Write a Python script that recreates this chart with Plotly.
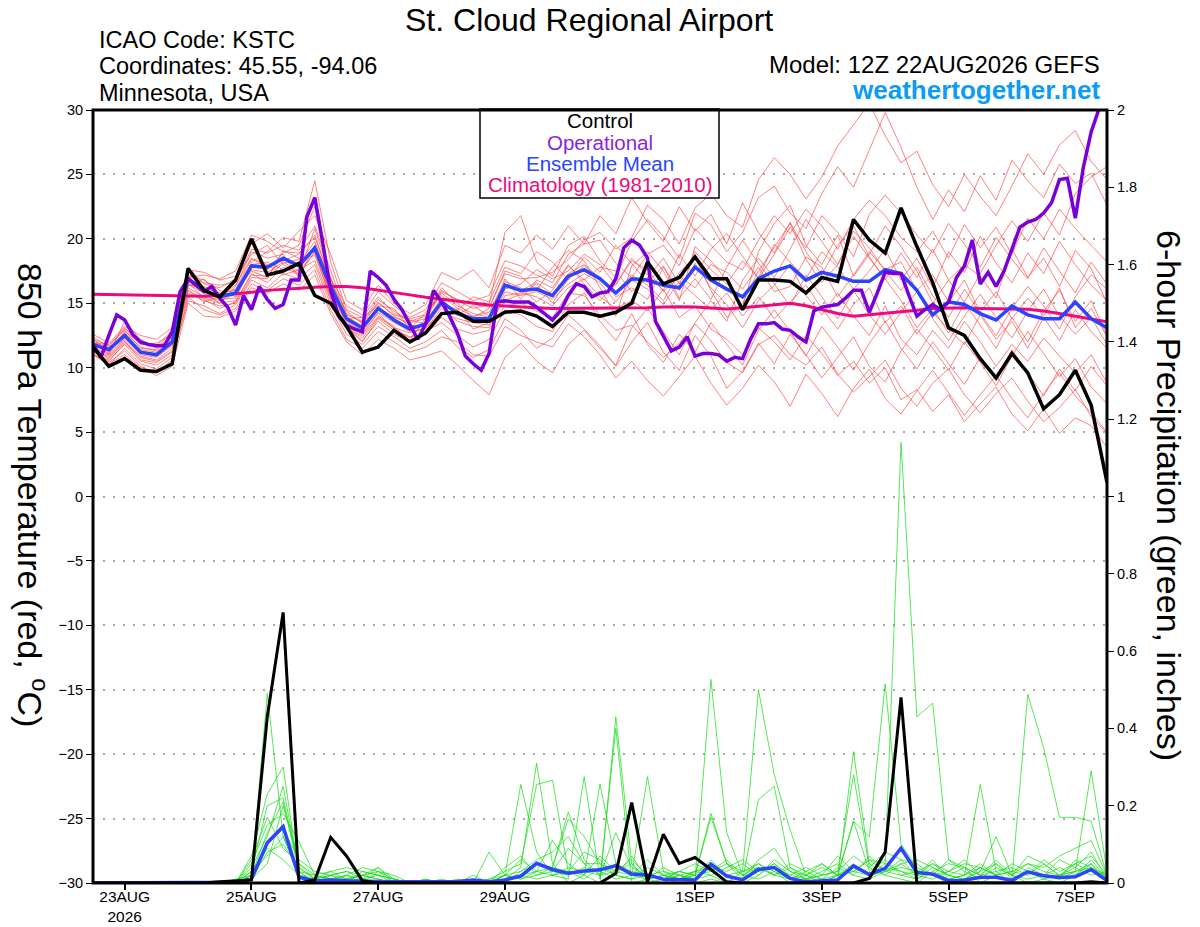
import pandas as pd
import plotly.graph_objects as go

# ---------------- data ----------------
start = "2026-08-22 12:00"
times_6h = pd.date_range(start, periods=65, freq="6h")
times_3h = pd.date_range(start, periods=129, freq="3h")

control_temp = [11.6,10.1,10.7,9.8,9.7,10.3,17.7,16.0,15.5,16.8,20.0,17.2,17.5,
                18.1,15.6,15.0,13.2,11.2,11.6,12.9,12.0,12.7,14.2,14.3,13.6,13.6,
                14.3,14.4,14.0,13.2,14.3,14.3,14.0,14.3,15.0,18.2,16.5,17.0,18.6,
                16.9,16.9,14.5,16.8,16.8,16.7,15.8,17.0,16.7,21.5,19.9,18.9,22.4,
                19.4,16.6,13.1,12.5,10.7,9.2,11.1,9.6,6.8,7.9,9.8,7.1,1.1]

mean_temp = [11.8,11.4,12.5,11.2,11.0,12.0,16.9,16.0,15.5,15.8,17.9,17.8,18.5,
             17.9,19.3,16.3,13.8,13.1,14.6,13.7,13.0,13.4,15.1,14.2,13.8,13.8,
             16.4,16.0,16.1,15.6,17.1,17.6,16.9,15.8,16.9,16.8,16.4,16.2,17.8,
             16.8,16.1,15.5,16.9,17.5,17.9,16.8,17.4,17.1,16.7,16.7,17.6,17.3,
             16.0,14.1,15.1,14.9,14.2,13.7,14.8,14.1,13.8,13.8,15.1,13.8,13.1]

clim_temp = [15.7,15.68,15.65,15.62,15.6,15.56,15.55,15.55,15.6,15.7,15.85,16.0,16.1,
             16.2,16.25,16.3,16.3,16.2,16.0,15.85,15.65,15.46,15.3,15.15,15.0,14.86,
             14.78,14.7,14.65,14.6,14.6,14.6,14.6,14.6,14.62,14.65,14.7,14.73,14.7,
             14.6,14.55,14.65,14.75,14.9,15.0,14.8,14.5,14.2,14.0,14.1,14.2,14.3,
             14.45,14.6,14.65,14.65,14.6,14.55,14.55,14.53,14.4,14.2,14.0,13.8,13.57]

# operational run, 3-hourly
oper_temp = [11.8,10.8,12.5,14.1,13.7,12.6,12.0,11.8,11.7,11.7,12.8,15.9,16.9,16.4,15.9,16.3,
             15.4,14.7,13.3,15.6,14.5,16.3,15.3,14.6,14.9,16.8,16.8,21.7,23.2,19.7,16.0,14.0,
             13.3,13.0,12.8,17.5,17.0,16.4,15.3,14.5,13.4,12.2,13.4,16.0,15.1,14.0,12.7,10.9,
             10.3,9.8,11.1,15.1,15.2,15.1,15.1,15.1,14.7,14.2,13.7,14.4,15.6,16.5,16.3,15.5,
             15.8,15.9,16.9,19.3,19.9,19.5,18.5,13.6,12.4,11.3,11.6,12.4,10.9,11.1,11.1,11.0,
             10.5,10.8,10.7,12.2,13.4,13.4,13.5,13.0,12.9,12.4,12.0,14.4,14.7,14.8,14.9,15.4,
             16.0,16.0,14.3,15.8,17.4,17.3,17.3,15.6,14.0,14.5,14.9,14.5,15.1,17.0,17.9,19.9,
             16.5,17.4,16.3,17.5,19.2,20.9,21.3,21.5,22.0,22.8,24.6,24.7,21.6,25.5,28.3,30.1,
             31.5]

temp_m01 = [12.3,11.0,13.6,12.2,11.5,12.8,17.8,16.5,16.2,16.9,18.8,19.5,18.0,
            17.3,20.8,17.0,13.0,12.5,14.0,13.2,12.1,13.9,16.2,15.0,13.9,14.6,
            17.5,17.1,16.0,17.8,19.1,18.3,16.2,14.0,17.9,19.0,17.5,15.2,19.4,
            18.3,16.8,14.7,19.0,21.2,22.6,19.5,18.0,20.3,17.1,18.8,21.0,19.4,
            17.5,15.0,16.8,18.0,17.1,15.4,19.2,17.0,18.5,16.3,19.1,17.7,15.0]
temp_m02 = [11.2,10.6,11.8,10.5,10.2,11.0,15.8,15.2,14.8,15.0,17.0,16.9,19.1,
            18.5,18.7,15.5,13.2,12.0,13.8,12.9,12.4,12.6,13.9,13.0,12.6,12.9,
            14.8,15.0,14.4,13.9,15.8,15.6,14.1,12.9,13.3,12.0,10.8,11.9,13.4,
            12.1,10.4,9.6,11.8,12.5,11.0,10.2,11.6,9.5,8.1,9.3,10.6,8.4,
            7.0,8.8,9.9,7.9,6.5,8.0,9.2,7.4,5.8,6.9,8.3,6.2,4.9]
temp_m03 = [11.9,11.8,12.9,11.5,11.4,12.5,17.2,16.8,16.0,15.5,18.2,19.0,20.1,
            19.8,24.5,18.2,14.5,13.9,15.5,14.2,13.8,14.1,16.0,15.2,14.6,14.9,
            20.5,21.8,18.2,17.1,19.5,20.2,18.3,17.0,19.8,21.5,20.2,18.5,22.0,
            21.1,19.0,20.5,23.2,24.1,22.0,20.8,23.5,25.6,24.0,26.9,29.8,27.1,
            24.0,21.5,23.8,22.1,24.9,23.0,26.1,24.5,23.2,25.8,24.3,25.1,22.6]
temp_m04 = [11.5,10.9,12.2,11.0,10.8,11.7,16.5,15.8,15.0,16.3,19.0,18.5,18.8,
            17.0,19.5,16.8,14.2,13.5,15.1,14.0,13.3,13.2,14.8,14.5,13.0,13.5,
            15.2,15.7,16.5,15.0,16.9,17.9,17.0,15.5,16.2,15.3,17.8,16.0,18.1,
            16.2,14.9,13.1,15.2,16.4,18.0,15.6,14.1,15.8,14.0,12.5,14.8,12.2,
            11.0,12.9,11.5,13.6,12.0,10.1,11.8,10.5,12.3,10.9,9.6,11.0,8.8]
temp_m05 = [12.0,11.2,12.8,11.9,11.6,12.3,16.0,15.1,15.5,15.9,17.5,17.0,18.1,
            18.4,19.0,15.8,13.6,12.8,14.2,13.0,12.3,13.6,15.4,14.1,14.8,14.0,
            16.9,15.3,16.8,16.2,18.0,16.5,15.2,16.5,18.3,17.6,15.9,17.1,16.2,
            18.0,17.4,16.1,17.8,15.9,16.3,18.6,17.8,15.5,17.2,19.0,17.6,18.2,
            16.0,17.2,15.1,16.8,14.3,15.9,13.8,15.4,14.0,16.2,13.1,14.6,12.4]
temp_m06 = [11.0,10.2,11.5,10.3,9.9,10.8,15.2,14.8,14.2,14.9,16.8,16.2,17.3,
            16.9,18.0,14.9,12.6,11.8,13.2,12.4,11.5,12.0,12.9,11.6,10.8,11.4,
            13.8,12.9,11.5,12.3,14.1,13.0,11.7,10.1,12.0,13.5,11.2,9.8,12.5,
            10.9,8.4,9.7,11.9,10.3,12.6,11.0,9.2,10.8,12.4,10.1,8.9,11.3,
            13.0,11.5,9.8,12.0,10.4,8.6,10.9,12.8,11.1,9.3,10.7,8.5,7.2]
temp_m07 = [12.6,11.9,13.2,12.5,12.2,13.1,17.0,17.2,16.9,17.5,20.3,19.8,19.0,
            18.9,20.1,16.9,14.8,14.1,15.9,14.8,13.9,14.5,16.6,15.9,15.2,15.6,
            18.3,17.9,17.2,16.6,18.8,19.6,19.9,18.1,17.0,18.8,19.5,17.9,20.8,
            19.5,18.2,17.6,19.9,21.8,20.4,22.3,21.0,19.2,21.5,23.0,21.8,20.1,
            19.0,20.6,18.5,21.1,19.3,20.9,18.8,21.6,20.0,22.3,20.8,19.5,18.2]
temp_m08 = [11.3,10.5,11.9,10.8,10.5,11.3,16.2,15.5,15.2,15.7,17.6,17.4,18.2,
            17.5,18.9,16.0,13.4,12.6,14.3,13.5,12.8,13.0,14.6,13.6,13.2,13.1,
            15.6,15.8,15.5,14.8,16.2,16.9,15.5,14.6,15.2,14.4,16.1,13.9,14.8,
            13.0,12.2,11.0,13.1,12.0,10.6,12.5,11.1,9.4,10.5,8.8,10.0,7.5,
            8.3,6.6,7.9,5.8,7.2,8.5,6.4,5.1,6.8,4.9,6.1,5.5,3.8]
temp_m09 = [11.7,11.3,12.4,11.1,11.1,12.1,17.5,16.2,15.8,16.0,18.0,18.2,17.6,
            18.1,19.8,16.5,14.0,13.2,14.7,13.9,13.5,13.8,15.8,14.8,14.2,13.9,
            16.1,16.5,17.6,16.9,17.5,18.8,18.0,16.4,18.5,17.2,16.0,18.8,17.1,
            19.2,20.4,18.6,16.9,18.8,20.9,19.3,21.8,20.5,18.6,21.9,23.4,22.0,
            20.3,18.9,21.2,19.6,17.8,20.1,18.4,16.9,19.3,17.5,15.8,18.2,16.5]
temp_m10 = [11.4,10.8,12.0,10.9,10.6,11.5,16.6,15.4,15.0,15.2,17.2,17.1,18.6,
            18.0,19.2,15.6,13.1,12.3,13.9,13.1,12.7,13.1,14.3,13.8,13.5,13.3,
            15.9,15.6,15.9,15.3,16.5,17.3,16.6,15.1,16.8,16.1,14.9,16.7,15.6,
            14.5,15.8,14.0,15.5,13.8,15.1,16.4,14.6,13.0,14.9,16.2,13.5,14.8,
            12.6,14.3,13.0,11.8,14.1,12.2,13.6,11.5,13.9,12.1,14.5,12.8,11.5]
temp_m11 = [12.1,11.5,12.7,11.6,11.3,12.4,17.1,16.6,16.4,16.6,19.2,18.9,19.5,
            19.1,21.0,17.5,14.1,13.6,15.3,14.4,13.6,14.0,15.9,15.3,14.9,14.7,
            17.3,16.9,17.0,17.4,18.4,19.9,20.5,19.2,20.1,22.6,21.5,19.6,22.4,
            23.5,21.8,20.9,24.6,26.3,25.0,23.1,24.8,27.2,28.9,30.5,28.0,25.9,
            26.8,24.2,22.5,25.0,23.3,21.8,24.1,26.6,25.0,27.3,28.4,26.0,24.6]
temp_m12 = [11.0,10.4,11.3,10.1,9.6,10.6,15.5,14.5,14.1,14.6,16.5,16.0,16.9,
            16.4,17.6,14.5,12.2,11.5,12.8,12.0,11.2,11.6,12.4,12.0,11.0,10.9,
            13.2,12.5,12.0,11.6,13.4,12.4,11.0,9.2,10.5,9.0,7.8,9.3,10.9,
            8.8,7.1,8.4,10.2,8.9,7.0,9.5,8.0,6.2,8.4,9.9,7.6,6.4,
            8.2,9.8,8.0,6.3,7.9,9.4,7.6,6.1,8.0,9.6,7.8,6.5,5.0]
temp_m13 = [12.4,11.6,13.0,11.8,11.9,12.6,16.3,16.9,15.6,16.4,18.5,18.0,17.2,
            17.6,18.3,15.2,13.8,13.9,14.8,14.6,13.0,14.3,15.6,14.6,14.0,14.3,
            16.7,16.2,15.1,16.0,17.9,16.8,17.8,17.5,15.9,17.0,18.5,16.5,19.0,
            17.6,16.5,18.3,17.0,19.6,18.2,16.9,19.0,17.8,16.1,17.5,19.2,16.8,
            18.5,16.2,19.0,17.4,20.2,18.1,16.6,18.9,17.3,19.8,18.0,16.4,15.2]
temp_m14 = [11.6,11.0,12.3,11.3,10.9,11.8,16.8,15.9,15.3,15.4,17.8,17.6,18.9,
            19.5,22.5,16.2,13.7,12.9,14.5,13.6,12.9,13.5,15.2,14.2,13.7,13.6,
            16.3,16.0,16.6,15.7,17.3,18.0,16.9,15.9,17.2,16.4,15.2,17.4,18.6,
            16.0,13.9,15.0,17.5,19.4,21.2,18.4,16.6,18.0,20.2,18.5,16.9,15.2,
            13.1,14.6,12.7,15.0,13.3,11.5,13.9,12.0,14.4,16.0,13.6,15.2,12.5]
temp_m15 = [11.1,10.3,11.0,10.0,9.4,10.1,15.0,14.0,13.9,14.4,16.2,15.8,16.5,
            16.0,17.2,14.2,12.0,11.0,12.2,11.5,10.6,10.9,11.3,10.2,9.0,7.9,
            10.8,11.9,10.5,9.6,11.8,12.9,11.5,10.2,13.1,14.6,12.8,11.0,13.5,
            15.2,13.6,16.8,18.5,17.0,19.2,21.5,19.8,18.0,20.6,19.3,17.5,16.0,
            17.8,15.6,13.9,16.1,14.2,12.5,14.6,16.3,14.8,13.0,15.5,17.2,16.1]
temp_m16 = [12.2,11.7,13.1,11.9,11.7,12.9,17.6,17.4,16.8,17.1,19.6,20.4,19.3,
            20.6,21.8,18.8,15.2,14.5,16.4,15.0,14.2,14.9,17.4,16.8,17.6,16.2,
            19.5,18.9,20.3,19.2,21.0,19.6,21.8,20.4,23.2,21.3,19.8,22.5,20.6,
            21.9,19.6,22.8,20.5,18.9,21.3,19.0,17.2,19.5,21.0,18.6,16.8,18.9,
            17.0,19.2,16.8,15.1,17.3,19.5,21.4,19.8,22.0,20.3,23.5,24.8,25.6]
temp_m17 = [11.5,10.7,12.1,10.6,10.4,11.2,16.0,15.3,14.6,15.1,17.3,16.6,17.8,
            17.2,19.0,15.3,13.0,12.1,13.6,12.6,12.0,12.8,13.5,12.5,11.6,12.2,
            14.5,14.1,13.2,12.8,14.9,15.8,13.6,12.1,14.2,11.8,10.4,12.6,11.2,
            13.5,11.8,10.2,12.9,14.5,12.8,10.9,13.2,11.6,9.8,11.9,13.6,11.5,
            9.9,12.0,10.3,8.7,10.8,9.1,11.4,9.6,7.8,9.9,8.2,10.1,8.6]
temp_m18 = [11.8,11.1,12.6,11.4,11.2,12.2,16.4,16.3,15.7,16.1,18.4,17.9,18.3,
            18.8,20.3,16.6,14.4,13.4,15.0,14.1,13.7,13.4,15.0,14.5,15.5,15.1,
            17.8,17.3,19.0,18.2,16.8,18.6,17.4,19.5,18.1,16.6,17.9,15.4,16.9,
            15.3,17.8,19.9,18.1,16.5,14.8,17.2,15.5,13.8,16.0,14.1,12.6,14.3,
            15.9,13.8,12.1,14.0,15.7,13.9,12.3,14.4,16.1,14.0,12.6,13.9,11.8]

control_prcp = [0,0,0,0,0,0,0,0,0.003,0.005,0.008,0.43,0.70,
                0,0.008,0.118,0.07,0.006,0,0,0,0,0,0,0,0,
                0,0,0,0,0,0,0,0.025,0.208,0.003,0.126,0.051,0.066,
                0.035,0.003,0,0,0,0,0,0,0,0,0.012,0.08,0.48,
                0,0,0,0,0,0,0,0,0,0,0,0.003,0]
mean_prcp = [0,0,0,0,0,0,0,0,0.001,0.002,0.01,0.104,0.146,
             0.015,0.005,0.008,0.006,0.006,0.004,0.003,0.003,0.003,0.002,0.004,0.008,0.003,
             0.008,0.018,0.051,0.035,0.025,0.031,0.034,0.045,0.023,0.021,0.01,0.008,0.008,
             0.049,0.018,0.008,0.035,0.04,0.012,0.003,0.005,0.008,0.044,0.022,0.038,0.09,
             0.027,0.023,0.006,0.007,0.015,0.015,0.007,0.029,0.019,0.014,0.016,0.035,0.006]

prcp_m01 = [0,0,0,0,0,0,0,0,0,0,0.02,0.49,0.12,
            0.03,0,0,0.01,0,0,0,0,0,0,0,0,0,
            0.01,0.04,0.31,0.05,0,0.02,0,0.43,0.05,0,0.01,0,0,
            0.01,0,0,0.02,0.05,0.01,0,0,0.02,0.03,0.06,0.05,1.14,
            0.43,0.465,0.06,0.04,0,0.02,0,0.03,0.01,0,0.02,0.05,0]
prcp_m02 = [0,0,0,0,0,0,0,0,0,0,0.07,0.23,0.30,
            0.02,0,0.02,0.01,0.02,0.04,0,0,0,0,0,0.02,0,
            0.02,0.255,0.08,0.02,0.01,0.275,0.01,0.40,0,0.01,0,0.02,0.01,
            0.527,0.13,0.02,0.01,0.03,0,0.01,0,0.02,0.16,0.12,0.515,0.10,
            0.04,0.02,0,0.01,0.03,0.12,0.02,0,0.01,0.02,0.04,0.08,0.01]
prcp_m03 = [0,0,0,0,0,0,0,0,0,0,0.03,0.20,0.22,
            0.04,0.01,0.03,0.04,0.03,0.02,0.01,0,0.01,0,0,0,0.01,
            0.03,0.05,0.255,0.266,0.03,0.02,0.256,0.05,0.02,0.275,0.03,0.02,0.01,
            0.02,0,0.03,0.50,0.28,0.137,0.02,0,0.01,0.34,0.05,0.02,0.01,
            0,0.03,0.01,0.02,0.255,0.03,0,0.04,0.02,0.01,0.03,0.29,0.03]
prcp_m04 = [0,0,0,0,0,0,0,0,0,0,0.05,0.15,0.18,
            0.107,0.02,0.01,0,0.01,0.04,0.01,0,0,0,0,0,0.08,
            0.02,0.01,0.03,0.04,0.184,0.06,0.02,0.05,0.03,0.02,0.01,0.03,0.02,
            0.18,0.05,0.01,0.216,0.25,0.04,0.01,0.02,0.03,0.28,0.04,0.08,0.06,
            0.05,0.02,0.03,0.06,0.02,0.05,0.01,0.488,0.35,0.17,0.17,0.16,0.02]
prcp_m05 = [0,0,0,0,0,0,0,0,0,0.01,0.02,0.10,0.14,
            0.06,0.03,0.02,0.03,0.02,0.01,0,0,0,0.01,0,0,0,
            0,0.03,0.05,0.04,0.166,0.12,0.05,0.03,0.06,0.02,0.03,0.01,0.02,
            0.17,0.05,0.03,0.04,0.02,0.05,0.03,0.01,0.02,0.16,0.03,0.06,0.02,
            0.01,0.03,0.05,0.04,0.02,0.06,0.02,0.05,0.04,0.07,0.09,0.11,0.02]
prcp_m06 = [0,0,0,0,0,0,0,0,0,0,0.01,0.08,0.10,
            0.04,0.01,0,0.02,0,0.03,0.02,0,0,0,0,0,0.01,
            0.02,0.01,0.02,0.03,0.09,0.05,0.05,0.02,0.01,0.04,0.02,0.01,0.03,
            0.05,0.02,0.01,0.03,0.04,0.02,0.01,0.03,0.05,0.02,0.01,0.03,0.05,
            0.02,0.06,0.01,0.02,0.05,0.02,0,0.03,0.02,0.01,0.06,0.04,0.01]
prcp_m07 = [0,0,0,0,0,0,0,0,0,0,0.04,0.12,0.25,
            0.03,0,0.01,0.02,0.01,0,0,0,0.01,0,0,0,0,
            0.01,0.02,0.01,0.02,0.03,0.01,0.04,0.02,0.07,0.01,0.02,0.03,0.02,
            0.03,0.06,0.02,0.05,0.03,0.01,0.02,0.04,0.02,0.05,0.02,0.04,0.03,
            0.01,0.04,0.02,0.01,0.03,0.05,0.02,0.01,0.02,0.04,0.02,0.06,0.01]
prcp_m08 = [0,0,0,0,0,0,0,0,0,0,0.02,0.09,0.06,
            0.02,0.01,0.02,0,0.03,0.02,0.01,0,0,0,0.01,0,0,
            0.04,0.07,0.02,0.04,0.03,0.08,0.06,0.02,0.01,0.02,0.01,0.02,0.03,
            0.02,0.04,0.06,0.03,0.05,0.02,0.04,0.02,0.07,0.03,0.02,0.05,0.03,
            0.02,0.01,0.03,0.05,0.04,0.02,0.03,0.05,0.03,0.02,0.05,0.03,0.02]
prcp_m09 = [0,0,0,0,0,0,0,0,0,0,0.01,0.05,0.20,
            0.05,0.02,0.03,0.01,0.02,0.03,0,0,0,0,0,0.01,0,
            0.02,0.03,0.06,0.08,0.12,0.05,0.02,0.03,0.05,0.01,0.02,0.01,0.03,
            0.04,0.03,0.05,0.02,0.06,0.03,0.01,0.02,0.03,0.07,0.04,0.02,0.05,
            0.06,0.04,0.02,0.01,0.04,0.02,0.05,0.03,0.02,0.06,0.04,0.02,0.03]
prcp_m10 = [0,0,0,0,0,0,0,0,0,0,0.03,0.07,0.12,
            0.02,0.01,0,0.01,0.02,0.01,0,0,0,0,0,0,0,
            0.01,0.02,0.05,0.03,0.02,0.04,0.03,0.01,0.02,0.06,0.02,0.01,0.02,
            0.06,0.02,0.03,0.05,0.02,0.04,0.02,0.05,0.02,0.03,0.06,0.03,0.04,
            0.03,0.05,0.02,0.04,0.02,0.03,0.04,0.02,0.05,0.02,0.03,0.05,0.01]
prcp_m11 = [0,0,0,0,0,0,0,0,0,0,0.06,0.17,0.09,
            0.05,0.01,0.02,0.03,0.01,0.02,0,0,0,0,0,0,0,
            0.01,0.02,0.03,0.11,0.05,0.02,0.07,0.03,0.02,0.01,0.04,0.02,0.01,
            0.04,0.02,0.01,0.06,0.09,0.03,0.02,0.01,0.04,0.02,0.07,0.03,0.02,
            0.03,0.02,0.06,0.03,0.01,0.04,0.02,0.07,0.05,0.02,0.03,0.04,0.02]
prcp_m12 = [0,0,0,0,0,0,0,0,0,0,0.02,0.13,0.21,
            0.03,0.02,0.01,0.02,0.04,0.03,0.01,0,0,0,0,0,0,
            0.02,0.06,0.03,0.02,0.04,0.03,0.02,0.13,0.04,0.02,0.01,0.03,0.05,
            0.03,0.05,0.02,0.04,0.02,0.01,0.03,0.05,0.02,0.04,0.02,0.03,0.06,
            0.02,0.05,0.03,0.02,0.04,0.02,0.03,0.02,0.06,0.03,0.05,0.07,0.02]

temp_members = [temp_m01, temp_m02, temp_m03, temp_m04, temp_m05, temp_m06, temp_m07,
                temp_m08, temp_m09, temp_m10, temp_m11, temp_m12, temp_m13, temp_m14,
                temp_m15, temp_m16, temp_m17, temp_m18]
prcp_members = [prcp_m01, prcp_m02, prcp_m03, prcp_m04, prcp_m05, prcp_m06, prcp_m07,
                prcp_m08, prcp_m09, prcp_m10, prcp_m11, prcp_m12]

tick_dates = ["2026-08-23", "2026-08-25", "2026-08-27", "2026-08-29",
              "2026-09-01", "2026-09-03", "2026-09-05", "2026-09-07"]
tick_labels = ["23AUG<br>2026", "25AUG", "27AUG", "29AUG", "1SEP", "3SEP", "5SEP", "7SEP"]
temp_ticks = list(range(-30, 31, 5))
prcp_ticks = [0, 0.2, 0.4, 0.6, 0.8, 1, 1.2, 1.4, 1.6, 1.8, 2]
prcp_tick_labels = ["0", "0.2", "0.4", "0.6", "0.8", "1", "1.2", "1.4", "1.6", "1.8", "2"]

for s in temp_members + prcp_members + [control_temp, mean_temp, clim_temp, control_prcp, mean_prcp]:
    assert len(s) == 65, len(s)
assert len(oper_temp) == 129, len(oper_temp)

# ---------------- figure ----------------
FONT = "Liberation Sans, Arial, sans-serif"
RED = "rgba(255,70,70,0.85)"
GREEN = "rgba(20,220,20,0.9)"
PURPLE = "#7A00D8"
BLUE = "#2A44FF"
PINK = "#EC0A7E"

fig = go.Figure()
for m in temp_members:
    fig.add_trace(go.Scatter(x=times_6h, y=m, mode="lines",
                             line=dict(color=RED, width=0.8), hoverinfo="skip"))
for m in prcp_members:
    fig.add_trace(go.Scatter(x=times_6h, y=m, mode="lines", yaxis="y2",
                             line=dict(color=GREEN, width=0.8), hoverinfo="skip"))
fig.add_trace(go.Scatter(x=times_6h, y=clim_temp, mode="lines",
                         line=dict(color=PINK, width=3)))
fig.add_trace(go.Scatter(x=times_6h, y=mean_prcp, mode="lines", yaxis="y2",
                         line=dict(color=BLUE, width=3.5)))
fig.add_trace(go.Scatter(x=times_6h, y=control_prcp, mode="lines", yaxis="y2",
                         line=dict(color="black", width=3)))
fig.add_trace(go.Scatter(x=times_6h, y=mean_temp, mode="lines",
                         line=dict(color=BLUE, width=3.5)))
fig.add_trace(go.Scatter(x=times_3h, y=oper_temp, mode="lines",
                         line=dict(color=PURPLE, width=3.5)))
fig.add_trace(go.Scatter(x=times_6h, y=control_temp, mode="lines",
                         line=dict(color="black", width=3.5)))

# page body has an 8px margin; figure is sized to fit inside the window
OFF = 8
W, H = 1200 - OFF, 927 - OFF
# plot area in screen pixels: x 93..1107, y 110..883
L = 93 - OFF
T = 110 - OFF
R = W - (1107 - OFF)
B = H - (883 - OFF)
PW, PH = W - L - R, H - T - B

def px(x):
    return (x - OFF - L) / PW

def py(y):
    return (H - B - (y - OFF)) / PH

annotations = [
    dict(text="St. Cloud Regional Airport", x=px(589), y=py(20), xanchor="center",
         yanchor="middle", font=dict(size=32, color="black")),
    dict(text="ICAO Code: KSTC", x=px(97), y=py(40), xanchor="left", yanchor="middle",
         font=dict(size=23.5, color="black")),
    dict(text="Coordinates: 45.55, -94.06", x=px(97), y=py(66), xanchor="left",
         yanchor="middle", font=dict(size=23.5, color="black")),
    dict(text="Minnesota, USA", x=px(97), y=py(93), xanchor="left", yanchor="middle",
         font=dict(size=23.5, color="black")),
    dict(text="Model: 12Z 22AUG2026 GEFS", x=px(1102), y=py(64), xanchor="right",
         yanchor="middle", font=dict(size=24, color="black")),
    dict(text="<b>weathertogether.net</b>", x=px(1102), y=py(90), xanchor="right",
         yanchor="middle", font=dict(size=26, color="#0D9CF4")),
    dict(text="850 hPa Temperature (red, <sup>o</sup>C)", x=px(33), y=py(495),
         xanchor="center", yanchor="middle", textangle=90,
         font=dict(size=34, color="black")),
    dict(text="6-hour Precipitation (green, inches)", x=px(1169), y=py(495),
         xanchor="center", yanchor="middle", textangle=90,
         font=dict(size=34, color="black")),
    dict(text="Control", x=px(600), y=py(121), xanchor="center", yanchor="middle",
         font=dict(size=20.5, color="black")),
    dict(text="Operational", x=px(600), y=py(142), xanchor="center", yanchor="middle",
         font=dict(size=20.5, color="#8A1FE0")),
    dict(text="Ensemble Mean", x=px(600), y=py(163), xanchor="center", yanchor="middle",
         font=dict(size=20.5, color=BLUE)),
    dict(text="Climatology (1981-2010)", x=px(600), y=py(185), xanchor="center",
         yanchor="middle", font=dict(size=20.5, color=PINK)),
]
for a in annotations:
    a.update(xref="paper", yref="paper", showarrow=False)

shapes = [
    dict(type="rect", xref="paper", yref="paper", x0=px(480), x1=px(719),
         y0=py(198), y1=py(109), line=dict(color="black", width=1.5),
         fillcolor="white", layer="above"),
    dict(type="rect", xref="paper", yref="paper", x0=0, x1=1, y0=0, y1=1,
         line=dict(color="black", width=3), layer="above"),
]

fig.update_layout(
    width=W, height=H,
    margin=dict(l=L, r=R, t=T, b=B, autoexpand=False),
    paper_bgcolor="white", plot_bgcolor="white",
    showlegend=False,
    font=dict(family=FONT, color="black"),
    annotations=annotations,
    shapes=shapes,
    xaxis=dict(range=[times_6h[0], times_6h[-1]], tickvals=tick_dates, ticktext=tick_labels,
               ticks="outside", ticklen=6, tickwidth=1.5, tickcolor="black",
               ticklabelstandoff=-7,
               showgrid=False, zeroline=False, showline=False,
               tickfont=dict(size=15.5), automargin=False),
    yaxis=dict(range=[-30, 30], tickvals=temp_ticks, ticks="outside", ticklen=6,
               tickwidth=1, tickcolor="black", showgrid=True, gridcolor="#A8A8A8",
               gridwidth=1.5, griddash="2px,8px", zeroline=False, showline=False,
               tickfont=dict(size=14.5), automargin=False),
    yaxis2=dict(range=[0, 2], overlaying="y", side="right", tickvals=prcp_ticks,
                ticktext=prcp_tick_labels, ticks="outside", ticklen=6, tickwidth=1,
                tickcolor="black", showgrid=False, zeroline=False, showline=False,
                tickfont=dict(size=14.5), automargin=False),
)

fig.write_html("out.html")
